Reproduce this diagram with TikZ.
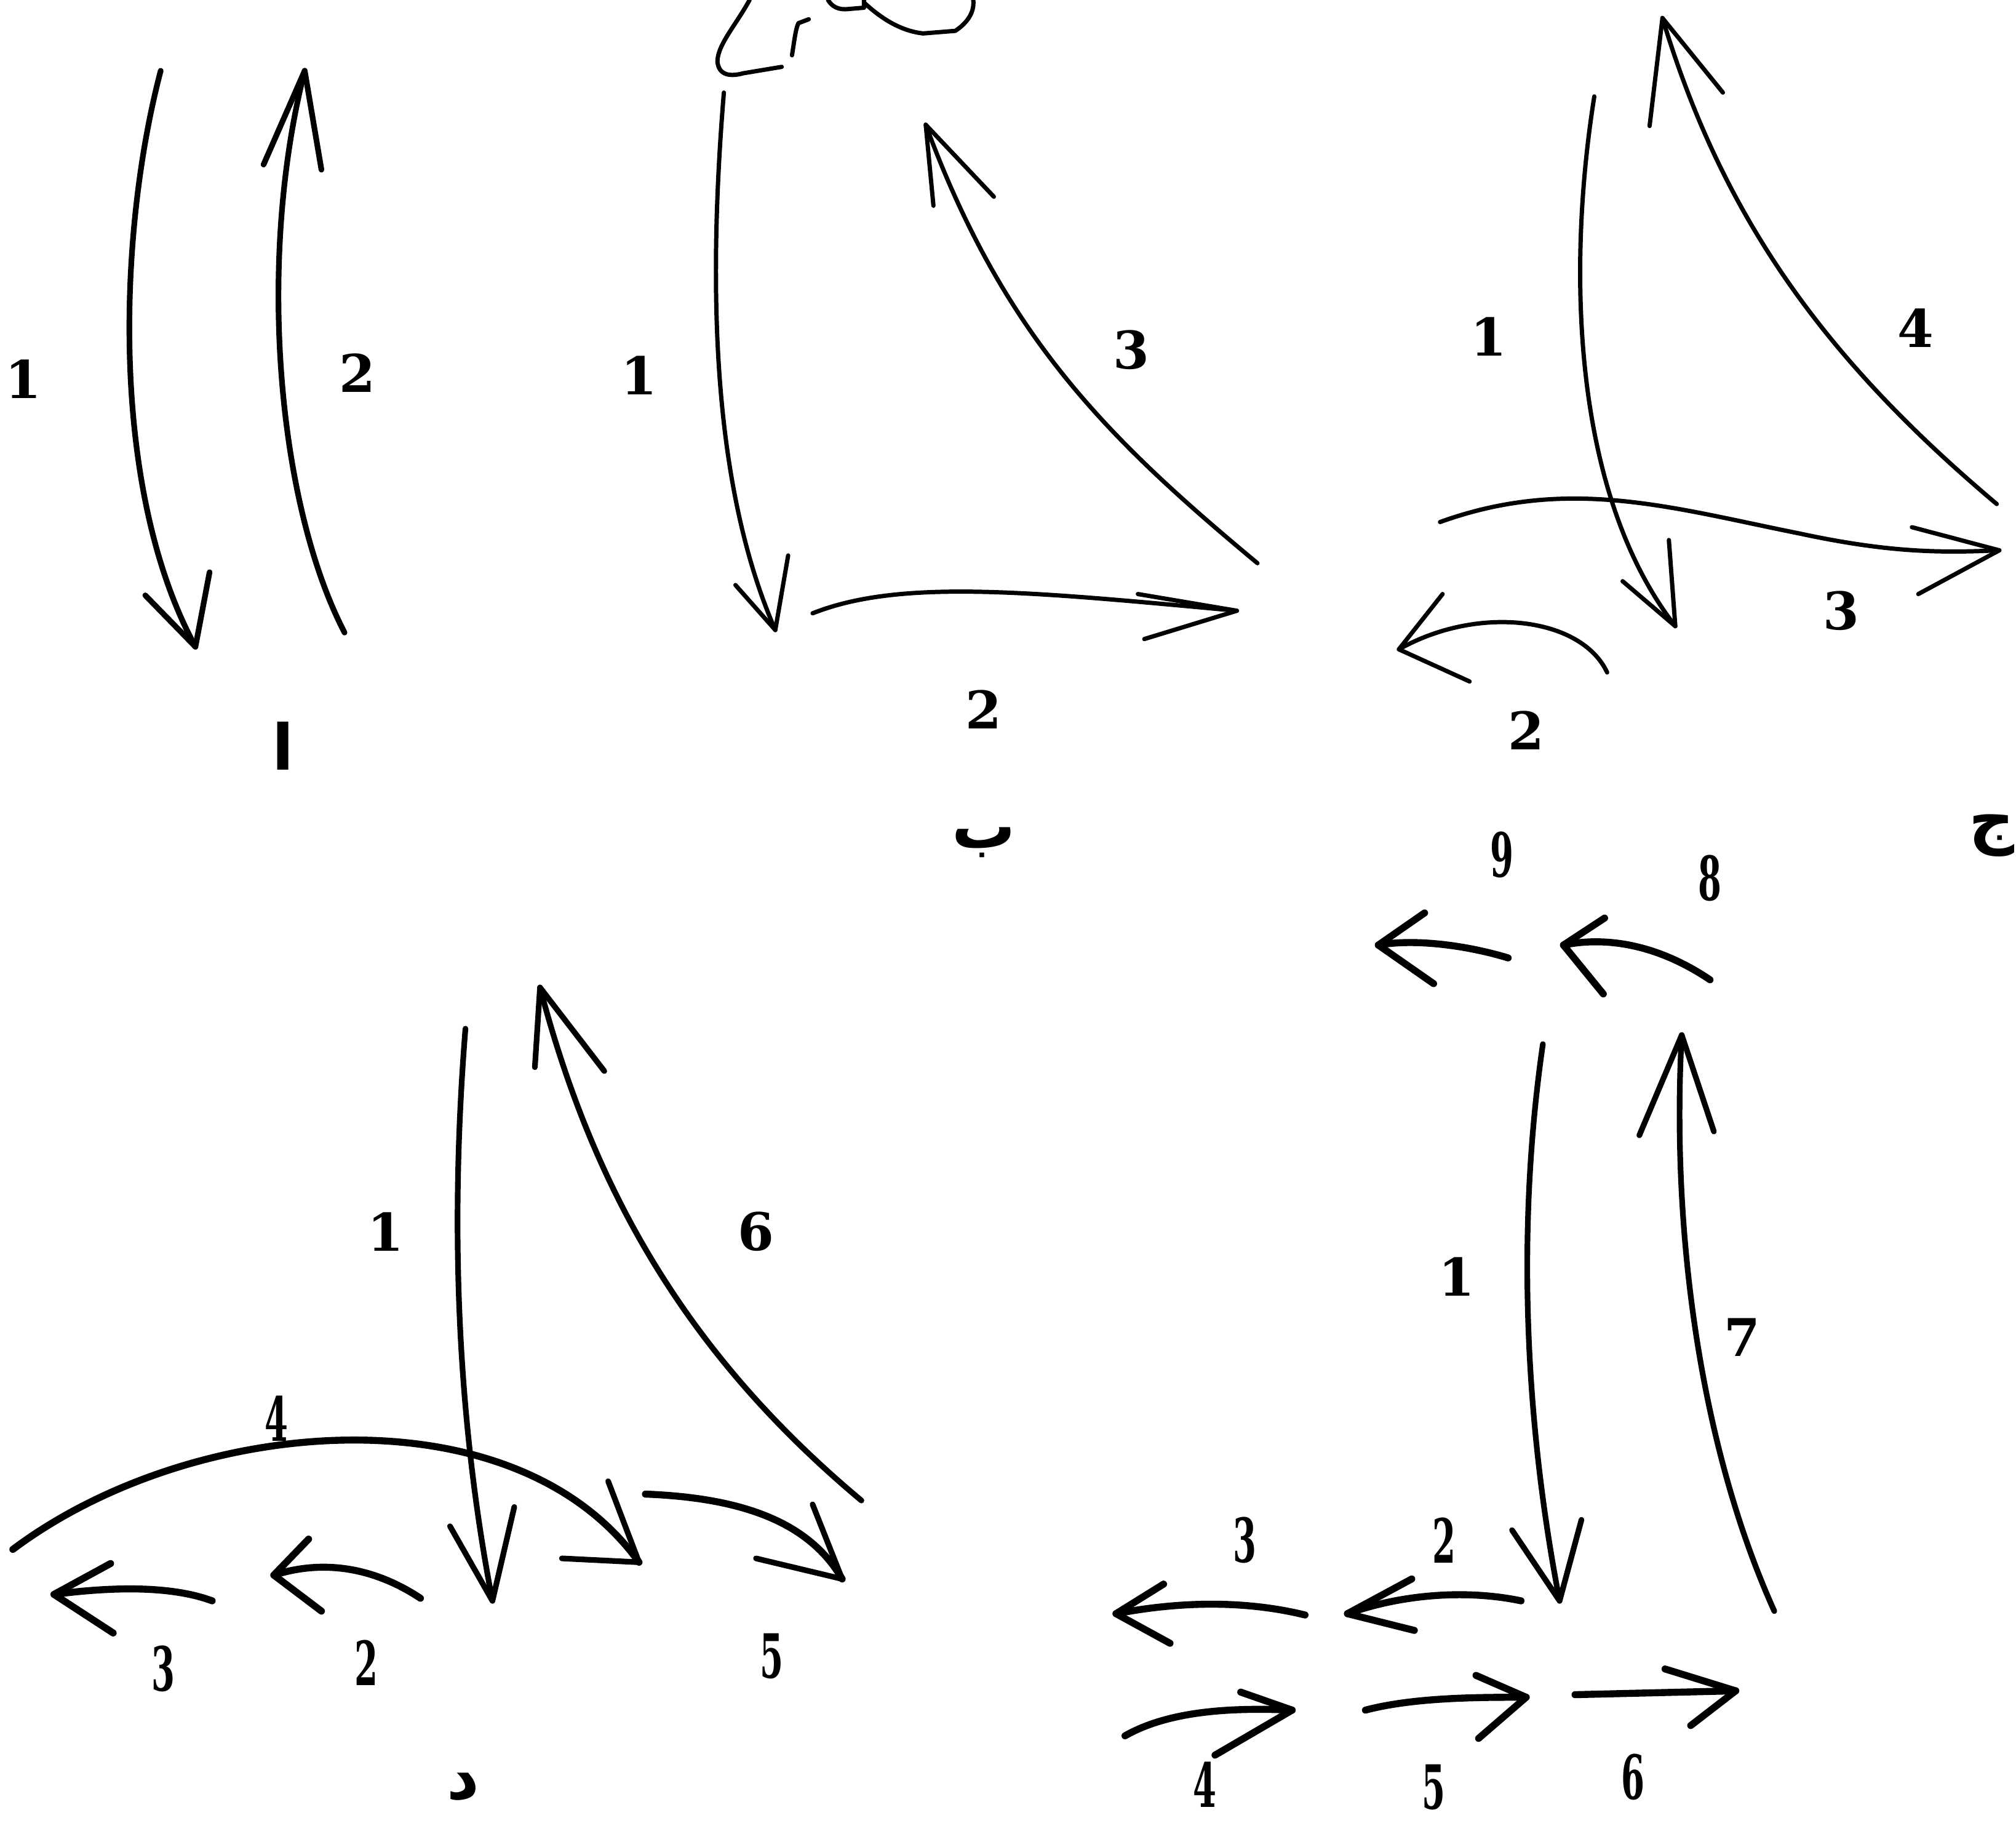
\documentclass[tikz,border=0pt]{standalone}
\usepackage{fontspec}
\newfontfamily\arabicfont[Script=Arabic]{DejaVu Sans}
\newfontfamily\labfont{DejaVu Serif}
\TeXXeTstate=1
\newcommand\cdig[1]{\scalebox{0.55}[1]{#1}}
\newcommand\ar[1]{\arabicfont\beginR #1\endR}
\begin{document}
\begin{tikzpicture}[x=0.02cm,y=-0.02cm,
  sk/.style={line width=2.5pt,line cap=round,line join=round},
  skt/.style={line width=1.9pt,line cap=round,line join=round},
  skb/.style={line width=3.1pt,line cap=round,line join=round},
  lab/.style={font=\labfont\fontsize{23}{27}\selectfont\bfseries,inner sep=0pt},
  labc/.style={font=\labfont\fontsize{27}{31}\selectfont\bfseries,inner sep=0pt},
  letr/.style={font=\fontsize{28}{32}\selectfont\bfseries,inner sep=0pt}]
\useasboundingbox (0,0) rectangle (1568,1420);
\clip (0,0) rectangle (1568,1420);

% ---------- diagram alef ----------
\draw[sk] (125,55) .. controls (92,180) and (85,380) .. (152,503);
\draw[sk] (113,463) -- (152,503) -- (163,445);
\draw[sk] (268,492) .. controls (215,390) and (200,200) .. (237,55);
\draw[sk] (205,128) -- (237,55) -- (250,132);
\node[lab] (a1) at (18,295) {1};
\node[lab] (a2) at (278,290) {2};
\node[letr] (aL) at (220,580) {\ar{ا}};

% ---------- diagram beh ----------
\draw[skt] (583,0) .. controls (572,20) and (558,35) .. (558,48) .. controls (559,58) and (567,60) .. (578,57) -- (608,52);
\draw[skt] (616,43) .. controls (618,30) and (619,22) .. (621,18) -- (629,15);
\draw[skt] (644,0) .. controls (647,5) and (652,8) .. (660,7) -- (672,6) -- (672,0);
\draw[skt] (672,2) .. controls (685,14) and (700,24) .. (718,26) -- (743,24) .. controls (752,18) and (758,10) .. (757,0);
\draw[skt] (563,72) .. controls (550,230) and (555,380) .. (603,490);
\draw[skt] (572,455) -- (603,490) -- (613,432);
\draw[skt] (978,438) .. controls (860,340) and (780,260) .. (720,97);
\draw[skt] (726,160) -- (720,97) -- (773,153);
\draw[skt] (632,477) .. controls (700,450) and (800,460) .. (962,475);
\draw[skt] (885,462) -- (962,475) -- (890,497);
\node[lab] (b1) at (497,292) {1};
\node[lab] (b3) at (880,272) {3};
\node[lab] (b2) at (765,552) {2};
\node[letr] (bL) at (765,655) {\ar{ب}};

% ---------- diagram jeem ----------
\draw[skt] (1240,75) .. controls (1220,200) and (1220,380) .. (1303,487);
\draw[skt] (1262,452) -- (1303,487) -- (1298,420);
\draw[skt] (1553,392) .. controls (1420,280) and (1340,170) .. (1293,14);
\draw[skt] (1283,98) -- (1293,14) -- (1340,72);
\draw[skt] (1120,406) .. controls (1220,370) and (1300,395) .. (1400,415) .. controls (1470,430) and (1510,430) .. (1555,428);
\draw[skt] (1487,410) -- (1555,428) -- (1492,462);
\draw[skt] (1250,523) .. controls (1230,480) and (1150,470) .. (1088,505);
\draw[skt] (1122,462) -- (1088,505) -- (1143,530);
\node[lab] (c1) at (1158,262) {1};
\node[lab] (c4) at (1490,255) {4};
\node[lab] (c3) at (1432,475) {3};
\node[lab] (c2) at (1187,568) {2};
\node[letr,anchor=east] (cL) at (1567,650) {\ar{ج}};

% ---------- diagram dal ----------
\draw[sk] (362,800) .. controls (350,950) and (355,1100) .. (383,1245);
\draw[sk] (350,1187) -- (383,1245) -- (400,1172);
\draw[sk] (670,1167) .. controls (530,1050) and (460,920) .. (420,768);
\draw[sk] (416,830) -- (420,768) -- (470,833);
\draw[skb] (10,1205) .. controls (150,1100) and (400,1080) .. (497,1215);
\draw[sk] (437,1212) -- (497,1215) -- (473,1152);
\draw[skb] (502,1162) .. controls (580,1165) and (630,1185) .. (655,1228);
\draw[sk] (588,1212) -- (655,1228) -- (632,1170);
\draw[skb] (327,1243) .. controls (300,1225) and (260,1210) .. (213,1225);
\draw[skb] (240,1197) -- (213,1225) -- (250,1253);
\draw[skb] (165,1245) .. controls (130,1232) and (80,1235) .. (42,1240);
\draw[skb] (86,1216) -- (42,1240) -- (88,1270);
\node[lab] (d1) at (300,958) {1};
\node[lab] (d6) at (588,958) {6};
\node[labc] (d4) at (215,1103) {\cdig{4}};
\node[labc] (d3) at (127,1298) {\cdig{3}};
\node[labc] (d2) at (285,1293) {\cdig{2}};
\node[labc] (d5) at (600,1288) {\cdig{5}};
\node[letr] (dL) at (360,1390) {\ar{د}};

% ---------- diagram five ----------
\draw[sk] (1200,812) .. controls (1180,950) and (1185,1100) .. (1213,1245);
\draw[sk] (1176,1190) -- (1213,1245) -- (1230,1182);
\draw[sk] (1380,1253) .. controls (1320,1120) and (1300,950) .. (1308,805);
\draw[sk] (1275,883) -- (1308,805) -- (1333,880);
\draw[skb] (1330,762) .. controls (1290,735) and (1250,728) .. (1216,735);
\draw[skb] (1248,714) -- (1216,735) -- (1247,773);
\draw[skb] (1173,745) .. controls (1140,735) and (1100,730) .. (1072,735);
\draw[skb] (1108,710) -- (1072,735) -- (1115,765);
\draw[skb] (1183,1245) .. controls (1140,1236) and (1090,1240) .. (1048,1255);
\draw[skb] (1098,1228) -- (1048,1255) -- (1100,1268);
\draw[skb] (1015,1256) .. controls (970,1245) and (920,1245) .. (868,1255);
\draw[skb] (905,1232) -- (868,1255) -- (910,1278);
\draw[skb] (875,1350) .. controls (910,1330) and (960,1328) .. (1005,1330);
\draw[skb] (965,1316) -- (1005,1330) -- (945,1365);
\draw[skb] (1062,1330) .. controls (1100,1320) and (1150,1320) .. (1187,1320);
\draw[skb] (1148,1303) -- (1187,1320) -- (1150,1352);
\draw[skb] (1225,1318) -- (1350,1315);
\draw[skb] (1295,1298) -- (1350,1315) -- (1315,1342);
\node[labc] (e9) at (1168,665) {\cdig{9}};
\node[labc] (e8) at (1330,683) {\cdig{8}};
\node[lab] (e1) at (1133,993) {1};
\node[lab] (e7) at (1355,1040) {7};
\node[labc] (e3) at (968,1198) {\cdig{3}};
\node[labc] (e2) at (1123,1198) {\cdig{2}};
\node[labc] (e4) at (937,1388) {\cdig{4}};
\node[labc] (e5) at (1115,1390) {\cdig{5}};
\node[labc] (e6) at (1270,1382) {\cdig{6}};
\end{tikzpicture}
\end{document}
